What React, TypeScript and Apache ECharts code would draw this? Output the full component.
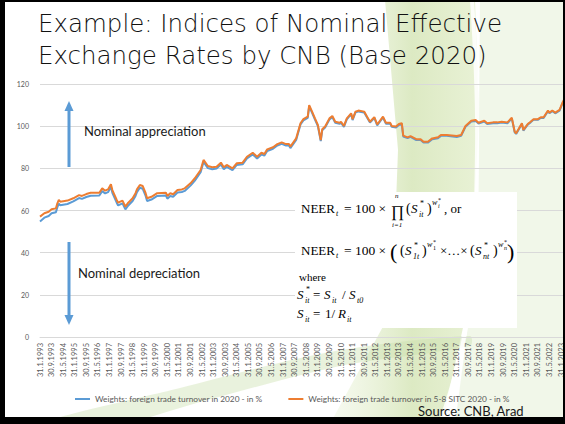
import React, { useEffect, useRef } from "react";
import * as echarts from "echarts";

// ---------- data ----------
const firstYear = 1993;
const monthCount = 363; // Jan 1993 .. Mar 2023

const titleLines = ["Example: Indices of Nominal Effective", "Exchange Rates by CNB (Base 2020)"];

const seriesNames = [
  "Weights: foreign trade turnover in 2020 - in %",
  "Weights: foreign trade turnover in 5-8 SITC 2020 - in %",
];

const sampleMonths = [
  "1993-01", "1993-04", "1993-07", "1993-09", "1993-12", "1994-01", "1994-02", "1994-03", "1994-08", "1994-12",
  "1995-04", "1995-06", "1995-09", "1995-12", "1996-06", "1996-08", "1996-10", "1996-12", "1997-02", "1997-03",
  "1997-06", "1997-07", "1997-10", "1997-12", "1998-02", "1998-05", "1998-07", "1998-08", "1998-10", "1998-12",
  "1999-02", "1999-03", "1999-06", "1999-10", "2000-04", "2000-05", "2000-07", "2000-09", "2000-12", "2001-03",
  "2001-05", "2001-09", "2001-12", "2002-04", "2002-06", "2002-09", "2002-12", "2003-03", "2003-06", "2003-08",
  "2003-10", "2004-02", "2004-05", "2004-09", "2004-12", "2005-04", "2005-07", "2005-10", "2005-12", "2006-02",
  "2006-06", "2006-09", "2006-12", "2007-03", "2007-05", "2007-06", "2007-10", "2008-01", "2008-03", "2008-06",
  "2008-07", "2008-09", "2008-11", "2009-01", "2009-03", "2009-04", "2009-06", "2009-09", "2009-11", "2010-01",
  "2010-04", "2010-05", "2010-07", "2010-09", "2010-12", "2011-01", "2011-03", "2011-05", "2011-09", "2011-11",
  "2012-01", "2012-04", "2012-06", "2012-10", "2012-12", "2013-03", "2013-04", "2013-07", "2013-09", "2013-11",
  "2013-12", "2014-03", "2014-05", "2014-09", "2014-12", "2015-02", "2015-05", "2015-08", "2015-12", "2016-02",
  "2016-06", "2017-01", "2017-04", "2017-07", "2017-11", "2018-02", "2018-04", "2018-08", "2018-10", "2019-02",
  "2019-05", "2019-08", "2019-12", "2020-03", "2020-05", "2020-06", "2020-08", "2020-10", "2020-11", "2021-02",
  "2021-04", "2021-06", "2021-09", "2021-11", "2022-01", "2022-04", "2022-05", "2022-07", "2022-09", "2022-12",
  "2023-02", "2023-03",
];

const orangeValues = [
  57.1, 58.7, 59.4, 60.6, 61.0, 63.4, 65.0, 64.2, 64.7, 65.8,
  67.3, 66.9, 67.8, 68.4, 68.4, 70.5, 69.4, 70.0, 72.4, 69.7,
  65.0, 63.7, 64.7, 61.8, 63.7, 65.8, 68.2, 70.0, 72.1, 71.6,
  68.2, 65.8, 66.5, 68.2, 68.4, 66.9, 68.2, 67.7, 69.7, 70.0,
  70.5, 72.9, 75.3, 79.2, 84.0, 81.1, 80.5, 80.8, 82.7, 80.5,
  81.6, 80.0, 82.4, 82.7, 85.5, 87.4, 85.5, 87.4, 86.8, 89.0,
  90.0, 91.5, 92.3, 91.5, 91.5, 90.3, 94.2, 101.4, 103.3, 104.5,
  110.0, 106.9, 103.7, 100.6, 93.4, 98.5, 99.8, 103.7, 104.8, 102.1,
  101.6, 102.1, 100.1, 103.7, 106.1, 103.3, 106.9, 107.4, 106.9, 104.5,
  102.1, 104.3, 100.8, 104.5, 101.6, 101.6, 100.1, 99.8, 101.0, 101.4,
  95.5, 94.7, 95.3, 93.8, 93.8, 92.6, 92.6, 94.2, 94.7, 95.8,
  95.8, 95.3, 95.8, 100.1, 102.6, 102.9, 101.6, 102.6, 101.4, 101.8,
  101.8, 102.1, 101.8, 104.0, 97.4, 96.6, 99.0, 101.4, 98.2, 101.0,
  102.1, 103.3, 103.3, 104.2, 104.2, 107.4, 106.4, 107.4, 106.4, 107.7,
  111.1, 112.4,
];

const blueValues = [
  54.8, 56.6, 57.4, 58.7, 59.2, 61.6, 63.2, 62.5, 63.1, 64.3,
  65.9, 65.5, 66.4, 67.0, 67.1, 69.2, 68.1, 68.7, 71.1, 68.4,
  63.7, 62.4, 63.4, 60.5, 62.4, 64.5, 66.9, 68.7, 70.8, 70.3,
  66.9, 64.5, 65.2, 66.9, 67.1, 65.6, 66.9, 66.5, 68.5, 68.8,
  69.3, 71.8, 74.2, 78.2, 83.0, 80.1, 79.6, 79.9, 81.8, 79.6,
  80.7, 79.2, 81.6, 81.9, 84.7, 86.6, 84.7, 86.6, 86.0, 88.2,
  89.3, 90.8, 91.6, 90.8, 90.8, 89.6, 93.5, 100.8, 102.7, 103.9,
  109.4, 106.3, 103.1, 100.0, 92.9, 98.0, 99.3, 103.2, 104.3, 101.6,
  101.1, 101.6, 99.6, 103.2, 105.7, 102.9, 106.5, 107.0, 106.5, 104.1,
  101.7, 103.9, 100.4, 104.1, 101.2, 101.2, 99.7, 99.4, 100.6, 101.0,
  95.1, 94.3, 94.9, 93.4, 93.4, 92.2, 92.2, 93.8, 94.3, 95.4,
  95.4, 94.9, 95.4, 99.7, 102.2, 102.5, 101.2, 102.2, 101.0, 101.4,
  101.4, 101.7, 101.4, 103.7, 97.1, 96.3, 98.7, 101.1, 97.9, 100.7,
  101.8, 103.0, 103.0, 103.9, 103.9, 107.1, 106.1, 107.1, 106.1, 107.4,
  110.8, 112.1,
];

const yMin = 0;
const yMax = 120;
const yStep = 20;

// ---------- helpers ----------
function buildCategories(): string[] {
  const out: string[] = [];
  for (let i = 0; i < monthCount; i++) {
    const y = firstYear + Math.floor(i / 12);
    const mo = (i % 12) + 1;
    const d = new Date(Date.UTC(y, mo, 0)).getUTCDate();
    out.push(`${d}.${mo}.${y}`);
  }
  return out;
}
function monthIndex(s: string): number {
  const [y, m] = s.split("-").map(Number);
  return (y - firstYear) * 12 + (m - 1);
}

const SERIF = "Liberation Serif";
function ft(x: number, base: number, text: string, size: number, italic = false) {
  return {
    type: "text",
    x,
    y: base - 0.34 * size,
    z: 11,
    style: {
      text,
      fontSize: size,
      fontFamily: SERIF,
      fontStyle: italic ? "italic" : "normal",
      fill: "#000",
      align: "left",
      verticalAlign: "middle",
    },
  };
}

export default function App() {
  const ref = useRef<HTMLDivElement>(null);

  useEffect(() => {
    if (!ref.current) return;
    const chart = echarts.init(ref.current, undefined, { renderer: "svg" });
    const categories = buildCategories();
    const idx = sampleMonths.map(monthIndex);
    const blueData = idx.map((m, i) => [m, blueValues[i]]);
    const orangeData = idx.map((m, i) => [m, orangeValues[i]]);

    const blue = "#5b9bd5";
    const orange = "#ed7d31";

    const bg: any[] = [
      {
        type: "polygon",
        z: -10,
        shape: {
          points: [[385, 0], [475, 0], [479, 120], [469, 300], [442, 424], [330, 424], [392, 310], [398, 150]],
        },
        style: {
          fill: new echarts.graphic.LinearGradient(0, 0, 1, 0, [
            { offset: 0, color: "rgba(232,242,214,0.35)" },
            { offset: 0.55, color: "rgba(192,216,146,0.55)" },
            { offset: 1, color: "rgba(210,228,172,0.5)" },
          ]),
        },
      },
      {
        type: "polygon",
        z: -10,
        shape: { points: [[480, 0], [565, 0], [565, 424], [455, 424], [478, 250]] },
        style: { fill: "rgba(224,237,206,0.45)" },
      },
      {
        type: "polyline",
        z: -9,
        shape: { points: [[472, 0], [477, 150], [467, 320], [440, 424]], smooth: 0.4 },
        style: { stroke: "rgba(255,255,255,0.85)", lineWidth: 4, fill: null },
      },
      {
        type: "polygon",
        z: -10,
        shape: {
          points: [[40, 424], [180, 388], [330, 352], [470, 336], [470, 346], [340, 366], [200, 402], [120, 424]],
          smooth: 0.3,
        },
        style: { fill: "rgba(200,222,170,0.4)" },
      },
    ];

    const arrows: any[] = [
      { type: "line", z: 6, shape: { x1: 69, y1: 167, x2: 69, y2: 109 }, style: { stroke: blue, lineWidth: 3 } },
      { type: "polygon", z: 6, shape: { points: [[64.5, 111], [73.5, 111], [69, 101]] }, style: { fill: blue } },
      { type: "line", z: 6, shape: { x1: 69, y1: 242, x2: 69, y2: 317 }, style: { stroke: blue, lineWidth: 3 } },
      { type: "polygon", z: 6, shape: { points: [[64.5, 315], [73.5, 315], [69, 325]] }, style: { fill: blue } },
    ];

    const formula: any[] = [
      { type: "rect", z: 10, shape: { x: 295, y: 192, width: 222, height: 136 }, style: { fill: "#ffffff" } },
      // line 1
      ft(301, 213, "NEER", 13),
      ft(336, 216, "t", 8, true),
      ft(344, 213, "= 100 ×", 13.5),
      ft(391, 217, "∏", 16),
      ft(395, 198, "n", 7, true),
      ft(392, 227, "i=1", 7, true),
      ft(406, 213, "(", 14),
      ft(411, 213, "S", 13, true),
      ft(420, 206, "*", 8),
      ft(419, 217, "it", 8, true),
      ft(427, 213, ")", 14),
      ft(432, 205, "w", 8, true),
      ft(438, 202, "*", 6),
      ft(438, 208, "i", 6, true),
      ft(444, 213, ", or", 13),
      // line 2
      ft(301, 255, "NEER", 13),
      ft(336, 258, "t", 8, true),
      ft(344, 255, "= 100 ×", 13.5),
      ft(390, 259, "(", 22),
      ft(400, 255, "(", 14),
      ft(405, 255, "S", 13, true),
      ft(414, 248, "*", 8),
      ft(413, 259, "1t", 8, true),
      ft(422, 255, ")", 14),
      ft(427, 247, "w", 8, true),
      ft(433, 244, "*", 6),
      ft(433, 250, "1", 6),
      ft(440, 255, "×…×", 13),
      ft(470, 255, "(", 14),
      ft(475, 255, "S", 13, true),
      ft(484, 248, "*", 8),
      ft(483, 259, "nt", 8, true),
      ft(493, 255, ")", 14),
      ft(498, 247, "w", 8, true),
      ft(504, 244, "*", 6),
      ft(504, 250, "n", 6, true),
      ft(507, 259, ")", 22),
      // line 3
      ft(299, 281, "where", 11),
      // line 4
      ft(297, 299, "S", 13, true),
      ft(306, 292, "*", 8),
      ft(305, 303, "it", 8, true),
      ft(313, 299, "=", 13),
      ft(324, 299, "S", 13, true),
      ft(332, 303, "it", 8, true),
      ft(342, 299, "/", 13),
      ft(349, 299, "S", 13, true),
      ft(357, 303, "t0", 8, true),
      // line 5
      ft(297, 318, "S", 13, true),
      ft(305, 322, "it", 8, true),
      ft(313, 318, "=", 13),
      ft(325, 318, "1/", 13),
      ft(338, 318, "R", 13, true),
      ft(347, 322, "it", 8, true),
    ];

    const frame: any[] = [
      { type: "rect", z: 30, shape: { x: 0, y: 0, width: 5, height: 424 }, style: { fill: "#000" } },
      { type: "rect", z: 30, shape: { x: 0, y: 0, width: 565, height: 2 }, style: { fill: "#000" } },
      { type: "rect", z: 30, shape: { x: 0, y: 417, width: 565, height: 7 }, style: { fill: "#000" } },
      { type: "rect", z: 30, shape: { x: 563, y: 0, width: 2, height: 424 }, style: { fill: "#000" } },
    ];

    const texts: any[] = [
      {
        type: "text", z: 5, x: 38, y: 7,
        style: {
          text: titleLines.join("\n"),
          fontSize: 24.5,
          lineHeight: 32,
          fontFamily: "DejaVu Sans",
          fontWeight: 200,
          fill: "#111111",
          align: "left",
          verticalAlign: "top",
        },
      },
      {
        type: "text", z: 6, x: 84, y: 131,
        style: { text: "Nominal appreciation", fontSize: 13, fontFamily: "Lato", fill: "#1a1a1a", verticalAlign: "middle" },
      },
      {
        type: "text", z: 6, x: 78, y: 273,
        style: { text: "Nominal depreciation", fontSize: 13, fontFamily: "Lato", fill: "#1a1a1a", verticalAlign: "middle" },
      },
      {
        type: "text", z: 6, x: 418, y: 411,
        style: { text: "Source: CNB, Arad", fontSize: 13, fontFamily: "Lato", fill: "#1a1a1a", verticalAlign: "middle" },
      },
    ];

    chart.setOption({
      animation: false,
      backgroundColor: "#ffffff",
      grid: { left: 40, right: 0, top: 84, bottom: 87, containLabel: false },
      legend: {
        data: seriesNames,
        left: 70,
        top: 390,
        icon: "rect",
        itemWidth: 15,
        itemHeight: 2,
        itemGap: 26,
        textStyle: { fontSize: 8.3, color: "#595959", fontFamily: "Lato" },
      },
      xAxis: {
        type: "category",
        data: categories,
        boundaryGap: false,
        axisLine: { lineStyle: { color: "#d9d9d9", width: 1 } },
        axisTick: { show: false },
        axisLabel: {
          interval: 7,
          rotate: 90,
          fontSize: 7.5,
          color: "#595959",
          fontFamily: "Lato",
          margin: 6,
        },
        splitLine: { show: false },
      },
      yAxis: {
        type: "value",
        min: yMin,
        max: yMax,
        interval: yStep,
        axisLine: { show: false },
        axisTick: { show: false },
        axisLabel: { fontSize: 7, color: "#595959", fontFamily: "Lato", margin: 11 },
        splitLine: { lineStyle: { color: "#d9d9d9", width: 1 } },
      },
      series: [
        {
          name: seriesNames[0],
          type: "line",
          data: blueData,
          showSymbol: false,
          lineStyle: { color: blue, width: 2 },
          itemStyle: { color: blue },
          z: 3,
        },
        {
          name: seriesNames[1],
          type: "line",
          data: orangeData,
          showSymbol: false,
          lineStyle: { color: orange, width: 2 },
          itemStyle: { color: orange },
          z: 4,
        },
      ],
      graphic: [...bg, ...texts, ...arrows, ...formula, ...frame],
    });
    return () => chart.dispose();
  }, []);

  return (
    <div
      ref={ref}
      style={{ position: "fixed", left: 0, top: 0, width: 565, height: 424, background: "#fff" }}
    />
  );
}
